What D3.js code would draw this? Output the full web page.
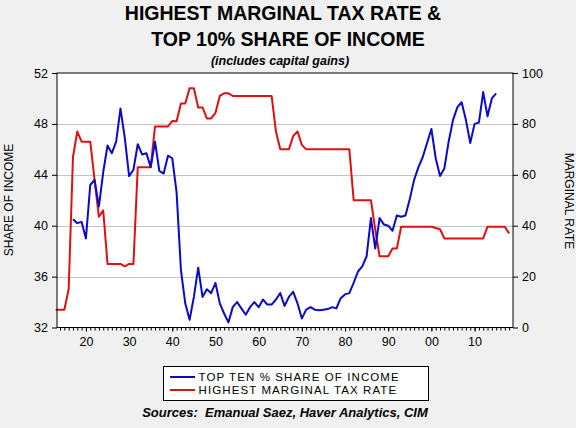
<!DOCTYPE html>
<html>
<head>
<meta charset="utf-8">
<script src="https://cdn.jsdelivr.net/npm/d3@7"></script>
<style>
  body { margin: 0; background: #f0f0f0; }
  svg { display: block; font-family: "Liberation Sans", Arial, sans-serif; }
  .axis text { font-size: 12.5px; fill: #000; }
  .axis path, .axis line { stroke: #000; }
</style>
</head>
<body>
<div id="chart"></div>
<script>
// top 10% share of income, incl. capital gains (left axis)
var shareYears = d3.range(1917, 2016);
var shareValues = [
  40.5, 40.2, 40.3, 39.0, 43.2, 43.6, 41.5, 44.2, 46.3, 45.7,   // 1917-26
  46.6, 49.2, 46.9, 43.9, 44.4, 46.4, 45.6, 45.7, 44.6, 46.6,   // 1927-36
  44.3, 44.1, 45.5, 45.3, 42.6, 36.5, 33.9, 32.6, 34.4, 36.7,   // 1937-46
  34.4, 35.0, 34.7, 35.5, 33.9, 33.1, 32.4, 33.6, 34.0, 33.5,   // 1947-56
  33.0, 33.6, 34.0, 33.6, 34.2, 33.8, 33.8, 34.2, 34.7, 33.7,   // 1957-66
  34.4, 34.8, 33.9, 32.7, 33.4, 33.6, 33.4, 33.35, 33.4, 33.45, // 1967-76
  33.6, 33.5, 34.3, 34.6, 34.7, 35.5, 36.4, 36.8, 37.6, 40.6,   // 1977-86
  38.2, 40.6, 40.1, 40.0, 39.6, 40.8, 40.7, 40.8, 42.1, 43.6,   // 1987-96
  44.6, 45.4, 46.5, 47.6, 45.3, 43.9, 44.5, 46.6, 48.3, 49.3,   // 1997-2006
  49.7, 48.3, 46.5, 48.0, 48.1, 50.5, 48.6, 50.0, 50.4          // 2007-15
];

// highest marginal tax rate (right axis)
var rateYears = d3.range(1913, 2019);
var rateValues = [
  7, 7, 7, 15, 67, 77, 73, 73, 73, 58,                          // 1913-22
  43.5, 46, 25, 25, 25, 25, 24, 25, 25, 63,                     // 1923-32
  63, 63, 63, 79, 79, 79, 79, 81.1, 81, 88,                     // 1933-42
  88, 94, 94, 86.45, 86.45, 82.13, 82.13, 84.36, 91, 92,        // 1943-52
  92, 91, 91, 91, 91, 91, 91, 91, 91, 91,                       // 1953-62
  91, 77, 70, 70, 70, 75.25, 77, 71.75, 70, 70,                 // 1963-72
  70, 70, 70, 70, 70, 70, 70, 70, 70, 50,                       // 1973-82
  50, 50, 50, 50, 38.5, 28, 28, 28, 31, 31,                     // 1983-92
  39.6, 39.6, 39.6, 39.6, 39.6, 39.6, 39.6, 39.6, 39.1, 38.6,   // 1993-2002
  35, 35, 35, 35, 35, 35, 35, 35, 35, 35,                       // 2003-12
  39.6, 39.6, 39.6, 39.6, 39.6, 37                              // 2013-18
];

var leftTicks = [32, 36, 40, 44, 48, 52];
var rightTicks = [0, 20, 40, 60, 80, 100];
var decadeTicks = [1920, 1930, 1940, 1950, 1960, 1970, 1980, 1990, 2000, 2010];
var decadeLabels = ["20", "30", "40", "50", "60", "70", "80", "90", "00", "10"];

var width = 576, height = 428;
var plot = { left: 57, right: 513, top: 73, bottom: 327.5 };

var svg = d3.select("#chart").append("svg")
    .attr("width", width)
    .attr("height", height);

svg.append("rect")
    .attr("width", width)
    .attr("height", height)
    .attr("fill", "#f0f0f0");

var x = d3.scaleLinear().domain([1913.3, 2018.9]).range([plot.left, plot.right]);
var yL = d3.scaleLinear().domain([32, 52]).range([plot.bottom, plot.top]);
var yR = d3.scaleLinear().domain([0, 100]).range([plot.bottom, plot.top]);

// plot area
svg.append("rect")
    .attr("x", plot.left).attr("y", plot.top)
    .attr("width", plot.right - plot.left).attr("height", plot.bottom - plot.top)
    .attr("fill", "#fff");

svg.append("g").selectAll("line")
    .data(leftTicks.slice(1, -1))
    .enter().append("line")
    .attr("x1", plot.left).attr("x2", plot.right)
    .attr("y1", function(d) { return Math.round(yL(d)) + 0.5; })
    .attr("y2", function(d) { return Math.round(yL(d)) + 0.5; })
    .attr("stroke", "#c4c4c4");

// lines
var rateLine = d3.line()
    .x(function(d, i) { return x(rateYears[i]); })
    .y(function(d) { return yR(d); });
var shareLine = d3.line()
    .x(function(d, i) { return x(shareYears[i]); })
    .y(function(d) { return yL(d); });

svg.append("path")
    .datum(rateValues)
    .attr("d", rateLine)
    .attr("fill", "none")
    .attr("stroke", "#dd1111")
    .attr("stroke-width", 2)
    .attr("stroke-linejoin", "round");

svg.append("path")
    .datum(shareValues)
    .attr("d", shareLine)
    .attr("fill", "none")
    .attr("stroke", "#0a0ac8")
    .attr("stroke-width", 2)
    .attr("stroke-linejoin", "round");

// frame
svg.append("rect")
    .attr("x", plot.left).attr("y", plot.top)
    .attr("width", plot.right - plot.left).attr("height", plot.bottom - plot.top)
    .attr("fill", "none")
    .attr("stroke", "#000");

// axes
svg.append("g")
    .attr("class", "axis")
    .attr("transform", "translate(" + plot.left + ",0)")
    .call(d3.axisLeft(yL).tickValues(leftTicks).tickSize(5).tickPadding(4))
    .call(function(g) { g.select(".domain").remove(); });

svg.append("g")
    .attr("class", "axis")
    .attr("transform", "translate(" + plot.right + ",0)")
    .call(d3.axisRight(yR).tickValues(rightTicks).tickSize(5).tickPadding(4))
    .call(function(g) { g.select(".domain").remove(); });

svg.append("g")
    .attr("class", "axis")
    .attr("transform", "translate(0," + plot.bottom + ")")
    .call(d3.axisBottom(x).tickValues(d3.range(1914, 2019)).tickSize(3).tickFormat(""))
    .call(function(g) { g.select(".domain").remove(); });

svg.append("g")
    .attr("class", "axis")
    .attr("transform", "translate(0," + plot.bottom + ")")
    .call(d3.axisBottom(x).tickValues(decadeTicks).tickSize(4).tickPadding(6)
        .tickFormat(function(d, i) { return decadeLabels[i]; }))
    .call(function(g) { g.select(".domain").remove(); });

// axis titles
svg.append("text")
    .attr("transform", "translate(13,200) rotate(-90)")
    .attr("text-anchor", "middle")
    .style("font-size", "12px")
    .text("SHARE OF INCOME");

svg.append("text")
    .attr("transform", "translate(565,201) rotate(90)")
    .attr("text-anchor", "middle")
    .style("font-size", "12px")
    .text("MARGINAL RATE");

// titles
svg.append("text")
    .attr("x", 283).attr("y", 20)
    .attr("text-anchor", "middle")
    .style("font-size", "19.5px").style("font-weight", "bold")
    .text("HIGHEST MARGINAL TAX RATE &");

svg.append("text")
    .attr("x", 288).attr("y", 46)
    .attr("text-anchor", "middle")
    .style("font-size", "19.5px").style("font-weight", "bold")
    .text("TOP 10% SHARE OF INCOME");

svg.append("text")
    .attr("x", 280).attr("y", 65)
    .attr("text-anchor", "middle")
    .style("font-size", "12.5px").style("font-weight", "bold").style("font-style", "italic")
    .text("(includes capital gains)");

// legend
var legend = svg.append("g");
legend.append("rect")
    .attr("x", 163.5).attr("y", 366.5)
    .attr("width", 265).attr("height", 34)
    .attr("fill", "#fff").attr("stroke", "#000");

var legendItems = [
  { label: "TOP TEN % SHARE OF INCOME", color: "#0a0ac8", y: 377 },
  { label: "HIGHEST MARGINAL TAX RATE", color: "#dd1111", y: 390 }
];
legendItems.forEach(function(d) {
  legend.append("line")
      .attr("x1", 170).attr("x2", 195)
      .attr("y1", d.y).attr("y2", d.y)
      .attr("stroke", d.color).attr("stroke-width", 2);
  legend.append("text")
      .attr("x", 198.5).attr("y", d.y + 4)
      .style("font-size", "11.5px")
      .style("letter-spacing", "1.1px")
      .text(d.label);
});

svg.append("text")
    .attr("x", 285).attr("y", 417)
    .attr("text-anchor", "middle")
    .style("font-size", "13px").style("font-weight", "bold").style("font-style", "italic")
    .attr("xml:space", "preserve")
    .text("Sources:  Emanual Saez, Haver Analytics, CIM");
</script>
</body>
</html>
